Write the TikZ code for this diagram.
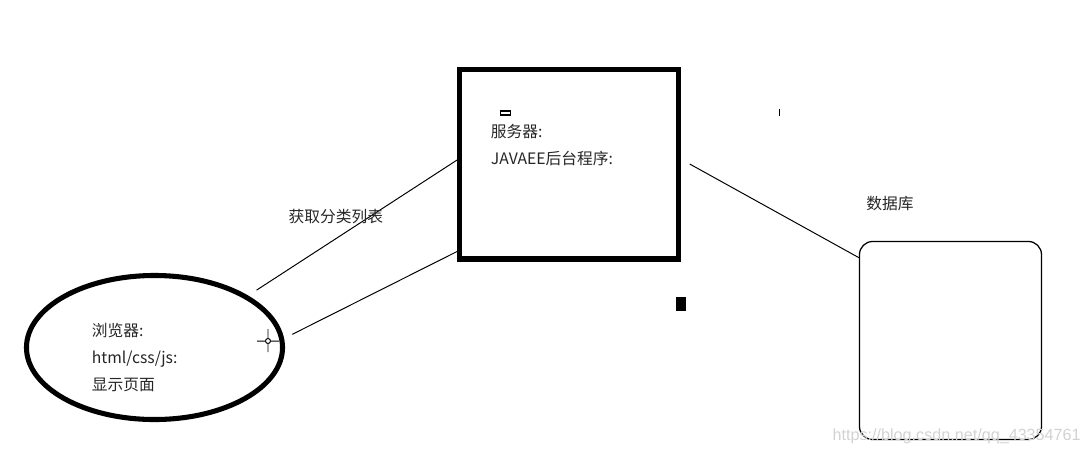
\documentclass[tikz,border=0pt]{standalone}
\usepackage{fontspec}
\setmainfont{Noto Sans CJK SC}
\newfontfamily\wmfont{Liberation Sans}
\usetikzlibrary{positioning,shapes.geometric}

\begin{document}
\begin{tikzpicture}[x=0.025cm, y=-0.025cm,
    lab/.style={inner sep=0, align=left, text=black!85, font=\fontsize{11.2pt}{19.2pt}\selectfont},
    link/.style={line width=0.7pt}]
      \useasboundingbox (0,0) rectangle (1088,456);

      \node[draw, ellipse, line width=3.6pt, minimum width=6.4cm, minimum height=3.6cm, inner sep=0] (browser) at (154.5,347.5) {};
      \node[draw, line width=3.8pt, minimum width=5.46cm, minimum height=4.74cm, inner sep=0] (server) at (569,164) {};
      \node[draw, line width=0.9pt, rounded corners=0.33cm, minimum width=4.55cm, minimum height=4.95cm, inner sep=0] (db) at (950.5,340.5) {};

      \node[lab, right=1.69cm of browser.west, yshift=-0.25cm] (browsertext) {浏览器:\\html/css/js:\\显示页面};
      \node[lab, below right=1.44cm and 0.84cm of server.north west] (servertext) {服务器:\\JAVAEE后台程序:};
      \node[lab, above right=0.75cm and 0.18cm of db.north west] (dbtext) {数据库};

      \draw[link, shorten <=0.25cm] (browser.29) -- ([yshift=0.1cm]server.west) node[lab, pos=0.42, yshift=0.55cm] (request) {获取分类列表};
      \draw[link, shorten <=0.23cm] (browser.4) -- ([yshift=0.25cm]server.south west);
      \draw[link] ([xshift=0.22cm]server.east) -- ([yshift=-0.42cm]db.north west);

      % leftovers of the screenshot
      \node[draw, line width=0.8pt, minimum width=0.25cm, minimum height=0.1cm, inner sep=0] (caret) at (505.5,113) {};
      \node[fill, minimum width=0.25cm, minimum height=0.35cm, inner sep=0] (block) at (681,304) {};
      \draw[line width=0.6pt] (779,109) -- (779,116);
      \draw[line width=0.7pt] (268,341) circle (2.5) (257,341) -- (265.5,341) (270.5,341) -- (279,341) (268,329) -- (268,338.5) (268,343.5) -- (268,352);

      \node[anchor=east, inner sep=0, text=gray!35, font=\wmfont\fontsize{11.5pt}{12pt}\selectfont] (watermark) at (1081,436) {https://blog.csdn.net/qq\_43354761};
    \end{tikzpicture}
\end{document}
